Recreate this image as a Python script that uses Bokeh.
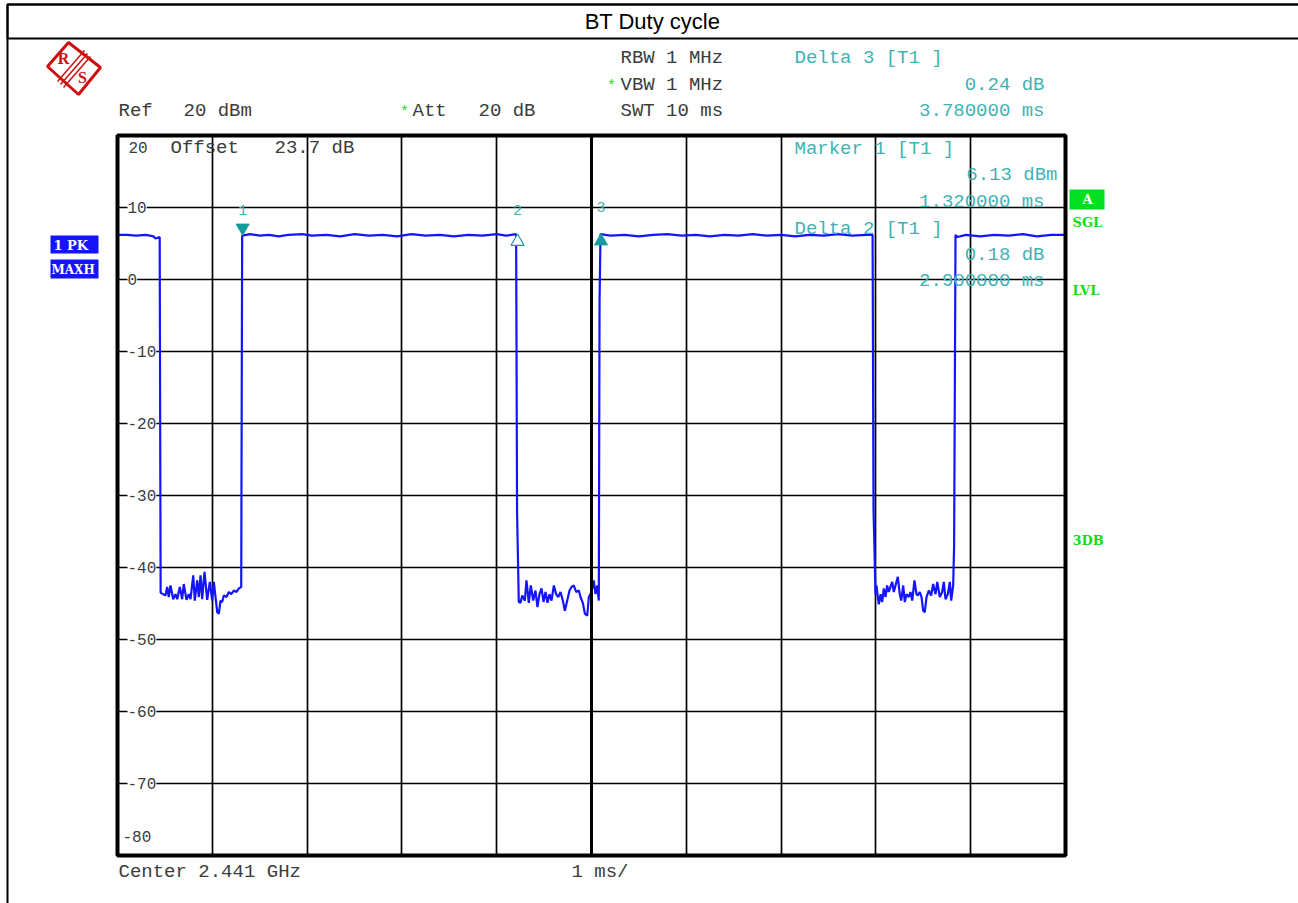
from bokeh.plotting import figure
from bokeh.models import Range1d, Grid, FixedTicker, Label, BoxAnnotation, PolyAnnotation
from bokeh.embed import file_html
from bokeh.resources import INLINE

# ---------------- data ----------------
title_text = "BT Duty cycle"
x_divs_ms = [0, 1, 2, 3, 4, 5, 6, 7, 8, 9, 10]
y_ticks_dbm = [20, 10, 0, -10, -20, -30, -40, -50, -60, -70, -80]

# burst "on" / "off" segments (time ms, level dBm)
on0_t = [0.00, 0.10, 0.20, 0.30, 0.38, 0.40, 0.445]
on0_db = [6.2, 6.2, 6.1, 6.2, 6.0, 5.7, 5.9]

off1_t = [0.455, 0.482, 0.506, 0.524, 0.541, 0.559, 0.588, 0.612, 0.630, 0.657, 0.682, 0.699,
          0.728, 0.752, 0.770, 0.799, 0.815, 0.841, 0.858, 0.876, 0.893, 0.918, 0.946, 0.974,
          0.999, 1.016, 1.034, 1.052, 1.069, 1.087, 1.104, 1.121, 1.150, 1.174, 1.199, 1.227,
          1.255, 1.280, 1.305]
off1_db = [-43.5, -43.7, -43.9, -42.7, -44.1, -42.5, -44.4, -43.7, -44.4, -42.7, -44.4, -42.3,
           -44.5, -43.7, -44.4, -41.1, -44.6, -41.8, -44.1, -41.1, -44.4, -40.6, -44.5, -42.0,
           -44.6, -42.0, -44.1, -46.2, -46.4, -44.6, -44.8, -43.9, -44.1, -43.4, -43.7, -43.2,
           -43.4, -42.9, -42.7]

on1_t = [1.315, 1.40, 1.50, 1.60, 1.70, 1.80, 1.95, 2.05, 2.20, 2.35, 2.50, 2.65, 2.80, 2.95,
         3.10, 3.25, 3.40, 3.55, 3.70, 3.85, 4.00, 4.10, 4.205]
on1_db = [6.1, 6.3, 6.1, 6.2, 6.0, 6.2, 6.3, 6.1, 6.2, 6.0, 6.3, 6.1, 6.2, 6.0,
          6.3, 6.1, 6.2, 6.0, 6.2, 6.1, 6.3, 6.1, 6.3]

off2_t = [4.215, 4.233, 4.251, 4.269, 4.297, 4.314, 4.339, 4.360, 4.385, 4.409, 4.430, 4.451,
          4.473, 4.494, 4.515, 4.536, 4.557, 4.578, 4.603, 4.627, 4.649, 4.673, 4.698, 4.719,
          4.744, 4.768, 4.789, 4.814, 4.838, 4.866, 4.884, 4.908, 4.930, 4.955, 4.972, 5.000,
          5.024, 5.042, 5.060, 5.077, 5.085]
off2_db = [-32.4, -44.8, -44.9, -43.9, -44.6, -41.8, -44.9, -42.5, -44.6, -43.2, -45.5, -43.7,
           -42.9, -44.8, -43.4, -44.9, -43.7, -44.6, -42.5, -43.7, -44.1, -43.4, -44.6, -46.0,
           -44.6, -43.2, -42.7, -42.5, -43.4, -43.2, -44.1, -44.9, -46.4, -46.7, -44.1, -43.4,
           -41.8, -43.7, -42.5, -44.6, -3.0]

on2_t = [5.095, 5.20, 5.35, 5.50, 5.65, 5.80, 5.95, 6.10, 6.25, 6.40, 6.55, 6.70, 6.85, 7.00,
         7.15, 7.30, 7.45, 7.60, 7.75, 7.90, 7.965]
on2_db = [6.3, 6.1, 6.2, 6.0, 6.2, 6.3, 6.1, 6.2, 6.0, 6.2, 6.1, 6.3, 6.1, 6.2,
          6.0, 6.2, 6.1, 6.3, 6.1, 6.2, 6.2]

off3_t = [7.975, 7.996, 8.006, 8.020, 8.031, 8.049, 8.066, 8.083, 8.101, 8.119, 8.136, 8.154,
          8.172, 8.189, 8.207, 8.231, 8.252, 8.267, 8.288, 8.305, 8.323, 8.347, 8.365, 8.383,
          8.407, 8.428, 8.442, 8.463, 8.481, 8.499, 8.516, 8.534, 8.558, 8.583, 8.604, 8.629,
          8.647, 8.674, 8.699, 8.716, 8.734, 8.759, 8.780, 8.794, 8.808, 8.815, 8.825]
off3_db = [-32.0, -43.7, -42.5, -44.1, -45.1, -43.7, -44.8, -42.9, -44.1, -42.5, -43.4, -42.7,
           -42.0, -43.4, -42.5, -41.3, -43.7, -44.6, -42.5, -44.8, -43.7, -44.1, -43.4, -44.6,
           -41.8, -43.7, -43.9, -43.4, -44.1, -46.0, -46.2, -44.1, -43.2, -43.9, -42.3, -43.7,
           -42.0, -44.1, -43.4, -42.0, -44.4, -43.7, -42.0, -44.6, -43.2, -42.5, -37.0]

on3_t = [8.84, 8.86, 8.95, 9.10, 9.25, 9.40, 9.55, 9.70, 9.85, 10.0]
on3_db = [6.2, 5.9, 6.2, 6.0, 6.2, 6.1, 6.3, 6.0, 6.2, 6.2]

# markers: marker 1 absolute, markers 2 and 3 as deltas to marker 1
m1_t_ms = 1.32
m1_dbm = 6.13
delta_names = ["2", "3"]
delta_t_ms = [2.90, 3.78]
delta_db = [0.18, 0.24]

# ---------------- layout ----------------
W, H = 1298, 903
FL, FT = 117, 135          # frame left / top (px)
PX_MS, PX_DB = 94.8, 7.2   # px per ms, px per dB

def X(px):
    return (px - FL) / PX_MS

def Y(py):
    return y_ticks_dbm[0] - (py - FT) / PX_DB

GRAY = "#3c3c3c"
TEAL = "#3fb3b3"
TEAL_D = "#169c9c"
GREEN = "#11dd11"
BLUE = "#1414ff"
RED = "#cc1010"
MONO = "Liberation Mono"

p = figure(width=W, height=H, x_range=Range1d(X(0), X(W)), y_range=Range1d(Y(H), Y(0)),
           x_axis_type=None, y_axis_type=None, toolbar_location=None, output_backend="svg",
           min_border=0, title=None)
p.background_fill_color = "white"
p.border_fill_color = "white"
p.outline_line_color = None

xmin, xmax = x_divs_ms[0], x_divs_ms[-1]
ymin, ymax = y_ticks_dbm[-1], y_ticks_dbm[0]
p.add_layout(Grid(dimension=0, ticker=FixedTicker(ticks=x_divs_ms), bounds=(xmin, xmax),
                  cross_bounds=(ymin, ymax), grid_line_color="black", grid_line_width=1.7))
p.add_layout(Grid(dimension=1, ticker=FixedTicker(ticks=y_ticks_dbm), bounds=(ymin, ymax),
                  cross_bounds=(xmin, xmax), grid_line_color="black", grid_line_width=1.7))

# trace
trace_t = on0_t + off1_t + on1_t + off2_t + on2_t + off3_t + on3_t
trace_db = on0_db + off1_db + on1_db + off2_db + on2_db + off3_db + on3_db
p.line(trace_t, trace_db, line_color=BLUE, line_width=2.2)

# frame border + centre line
p.add_layout(BoxAnnotation(left=xmin, right=xmax, top=ymax, bottom=ymin, fill_color=None,
                           line_color="black", line_alpha=1, line_width=4, level="overlay"))
p.add_layout(BoxAnnotation(left=x_divs_ms[5], right=x_divs_ms[5], top=ymax, bottom=ymin,
                           fill_color=None, line_color="black", line_alpha=1, line_width=3,
                           level="overlay"))

# markers
mk_t = [m1_t_ms] + [m1_t_ms + d for d in delta_t_ms]
mk_db = [m1_dbm] + [m1_dbm + d for d in delta_db]
off = 7.5 / PX_DB
p.scatter([mk_t[0]], [mk_db[0] + off], marker="inverted_triangle", size=13,
          fill_color=TEAL_D, line_color=TEAL_D)
p.scatter([mk_t[1]], [mk_db[1] - off], marker="triangle", size=13,
          fill_color="white", line_color=TEAL_D, line_width=1.2)
p.scatter([mk_t[2]], [mk_db[2] - off], marker="triangle", size=13,
          fill_color=TEAL_D, line_color=TEAL_D)
for name, t, dy in zip(["1"] + delta_names, mk_t, [209, 209, 206]):
    p.add_layout(Label(x=t, y=Y(dy), text=name, text_font=MONO, text_font_size="15px",
                       text_color=TEAL, text_align="center", text_baseline="middle"))

def lab(px, py, text, color=GRAY, align="left", size="19px", font=MONO, style="normal", bg=None):
    p.add_layout(Label(x=X(px), y=Y(py), text=text, text_font=font, text_font_size=size,
                       text_color=color, text_align=align, text_baseline="middle",
                       text_font_style=style, background_fill_color=bg))

# outer frame and title bar
p.add_layout(BoxAnnotation(left=X(7), right=X(W + 40), top=Y(4), bottom=Y(H + 40),
                           fill_color=None, line_color="black", line_alpha=1, line_width=2))
p.add_layout(BoxAnnotation(left=X(7), right=X(W + 40), top=Y(4), bottom=Y(38),
                           fill_color=None, line_color="black", line_alpha=1, line_width=2))
lab(652, 21, title_text, color="black", align="center", size="22px", font="Liberation Sans")

# logo
p.add_layout(PolyAnnotation(xs=[X(68), X(100), X(78), X(47)], ys=[Y(42), Y(67), Y(94), Y(66)],
                            fill_color=None, line_color=RED, line_alpha=1, line_width=3))
for d in (-3, 0, 3):
    p.add_layout(PolyAnnotation(xs=[X(60 + d), X(87 + d)], ys=[Y(84 + d), Y(53 + d)],
                                fill_color=None, line_color=RED, line_alpha=1, line_width=1.5))
lab(63, 58, "R", color=RED, align="center", size="16px", font="Liberation Serif", style="bold")
lab(82, 77, "S", color=RED, align="center", size="16px", font="Liberation Serif", style="bold")

# header texts
lab(620, 57, "RBW 1 MHz")
lab(611, 86, "*", color=GREEN, align="center", size="15px")
lab(620, 84, "VBW 1 MHz")
lab(620, 110, "SWT 10 ms")
lab(118, 110, "Ref")
lab(183, 110, "20 dBm")
lab(404, 112, "*", color=GREEN, align="center", size="15px")
lab(412, 110, "Att")
lab(478, 110, "20 dB")
lab(794, 57, "Delta " + delta_names[1] + " [T1 ]", color=TEAL)
lab(1044, 84, f"{delta_db[1]:.2f} dB", color=TEAL, align="right")
lab(1044, 110, f"{delta_t_ms[1]:.6f} ms", color=TEAL, align="right")

lab(128, 147, str(y_ticks_dbm[0]), size="16px")
lab(170, 147, "Offset")
lab(274, 147, "23.7 dB")
lab(794, 148, "Marker 1 [T1 ]", color=TEAL)
lab(1057, 174, f"{m1_dbm:.2f} dBm", color=TEAL, align="right")
lab(1044, 201, f"{m1_t_ms:.6f} ms", color=TEAL, align="right")
lab(794, 228, "Delta " + delta_names[0] + " [T1 ]", color=TEAL)
lab(1044, 254, f"{delta_db[0]:.2f} dB", color=TEAL, align="right")
lab(1044, 280, f"{delta_t_ms[0]:.6f} ms", color=TEAL, align="right")

# y tick labels (inside frame)
for v in y_ticks_dbm[1:-1]:
    p.add_layout(Label(x=X(127), y=v, text=str(v), text_font=MONO, text_font_size="16px",
                       text_color=GRAY, text_baseline="middle", background_fill_color="white"))
lab(122, 836, str(y_ticks_dbm[-1]), size="16px")

# bottom texts
lab(118, 871, "Center 2.441 GHz")
lab(571, 871, "1 ms/")

# left trace boxes
p.add_layout(BoxAnnotation(left=X(50), right=X(98), top=Y(235), bottom=Y(253),
                           fill_color=BLUE, fill_alpha=1, line_alpha=0))
p.add_layout(BoxAnnotation(left=X(50), right=X(98), top=Y(259), bottom=Y(278),
                           fill_color=BLUE, fill_alpha=1, line_alpha=0))
lab(53, 245, "1 PK", color="white", size="13px", font="DejaVu Serif", style="bold")
lab(51, 269, "MAXH", color="white", size="12px", font="DejaVu Serif", style="bold")

# right side status
p.add_layout(BoxAnnotation(left=X(1069), right=X(1104), top=Y(189), bottom=Y(209),
                           fill_color="#00e020", fill_alpha=1, line_alpha=0))
lab(1087, 199, "A", color="white", align="center", size="13px", font="DejaVu Serif", style="bold")
lab(1072, 222, "SGL", color=GREEN, size="13px", font="DejaVu Serif", style="bold")
lab(1072, 290, "LVL", color=GREEN, size="13px", font="DejaVu Serif", style="bold")
lab(1072, 540, "3DB", color=GREEN, size="13px", font="DejaVu Serif", style="bold")

open("out.html", "w").write(file_html(p, INLINE))
